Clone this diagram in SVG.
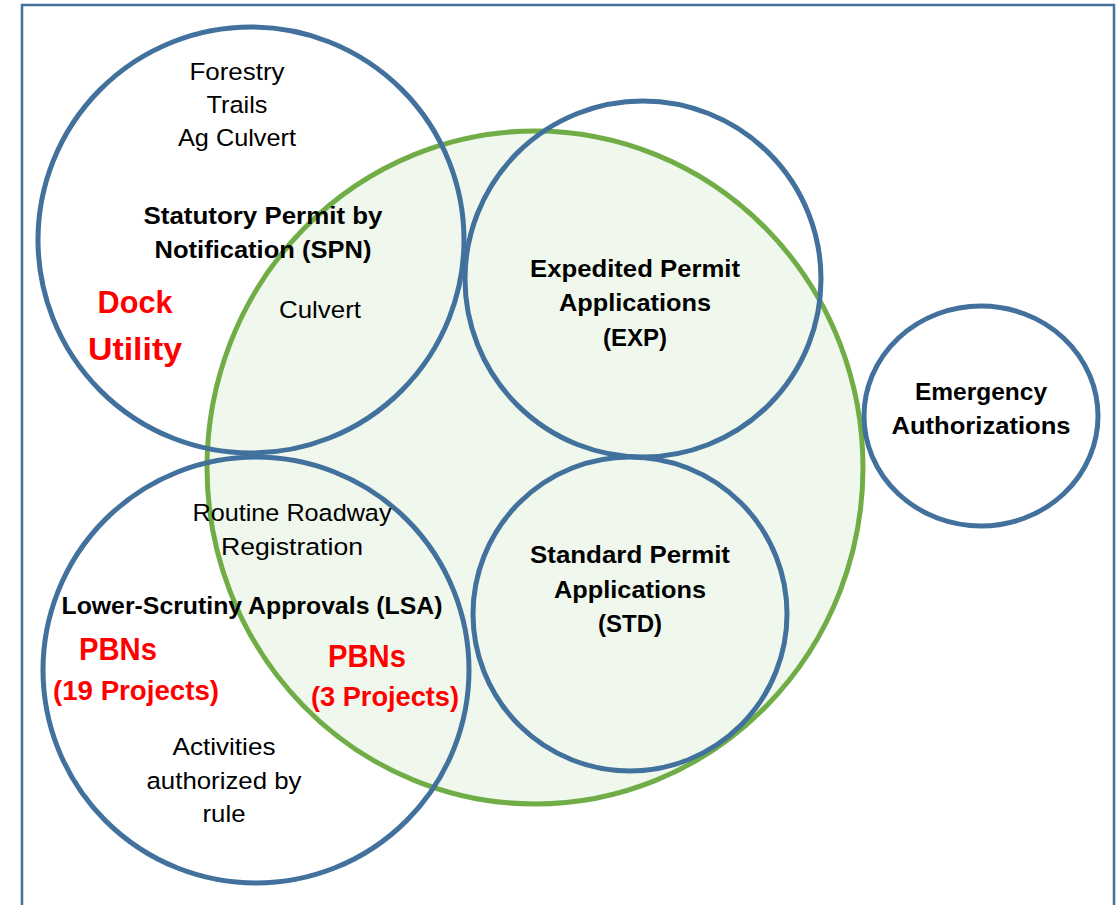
<svg xmlns="http://www.w3.org/2000/svg" width="1120" height="905" viewBox="0 0 1120 905">
<style>
.ring{fill:none;stroke:#41719C;stroke-width:5}
.t{font-family:"Liberation Sans",Arial,sans-serif;font-size:24.5px;fill:#000;text-anchor:middle}
.b{font-weight:bold;font-size:24px}
.r{fill:#FF0000;font-weight:bold}
</style>
<rect x="0" y="0" width="1120" height="905" fill="#FFFFFF"/>
<rect id="frame" x="22" y="5" width="1092" height="960" fill="none" stroke="#41719C" stroke-width="2.5"/>
<g id="general-permits">
<ellipse cx="535" cy="467.5" rx="328" ry="336.5" fill="#F0F7EC" stroke="#70AD47" stroke-width="5"/>
</g>
<g id="connectors"/>
<g id="spn">
<circle class="ring" cx="251" cy="240" r="213"/>
<text class="t" x="237" y="80" textLength="95" lengthAdjust="spacingAndGlyphs">Forestry</text>
<text class="t" x="237" y="113" textLength="61" lengthAdjust="spacingAndGlyphs">Trails</text>
<text class="t" x="237" y="146" textLength="118" lengthAdjust="spacingAndGlyphs">Ag Culvert</text>
<text class="t b" x="263" y="224" textLength="239" lengthAdjust="spacingAndGlyphs">Statutory Permit by</text>
<text class="t b" x="263" y="258" textLength="217" lengthAdjust="spacingAndGlyphs">Notification (SPN)</text>
<text class="t r" x="135" y="313" style="font-size:31px" textLength="75" lengthAdjust="spacingAndGlyphs">Dock</text>
<text class="t r" x="135" y="360" style="font-size:31px" textLength="94" lengthAdjust="spacingAndGlyphs">Utility</text>
<text class="t" x="320" y="318" textLength="82" lengthAdjust="spacingAndGlyphs">Culvert</text>
</g>
<g id="exp">
<circle class="ring" cx="643" cy="279" r="178"/>
<text class="t b" x="635" y="277" textLength="210" lengthAdjust="spacingAndGlyphs">Expedited Permit</text>
<text class="t b" x="635" y="311" textLength="152" lengthAdjust="spacingAndGlyphs">Applications</text>
<text class="t b" x="635" y="346" textLength="64" lengthAdjust="spacingAndGlyphs">(EXP)</text>
</g>
<g id="std">
<circle class="ring" cx="630" cy="614" r="157"/>
<text class="t b" x="630" y="563" textLength="200" lengthAdjust="spacingAndGlyphs">Standard Permit</text>
<text class="t b" x="630" y="598" textLength="152" lengthAdjust="spacingAndGlyphs">Applications</text>
<text class="t b" x="630" y="632" textLength="64" lengthAdjust="spacingAndGlyphs">(STD)</text>
</g>
<g id="emergency">
<ellipse class="ring" cx="981" cy="416" rx="117" ry="110"/>
<text class="t b" x="981" y="400" textLength="132" lengthAdjust="spacingAndGlyphs">Emergency</text>
<text class="t b" x="981" y="434" textLength="179" lengthAdjust="spacingAndGlyphs">Authorizations</text>
</g>
<g id="lsa">
<circle class="ring" cx="256" cy="670" r="213"/>
<text class="t" x="292" y="521" textLength="199" lengthAdjust="spacingAndGlyphs">Routine Roadway</text>
<text class="t" x="292" y="555" textLength="142" lengthAdjust="spacingAndGlyphs">Registration</text>
<text class="t b" x="252" y="614" textLength="381" lengthAdjust="spacingAndGlyphs">Lower-Scrutiny Approvals (LSA)</text>
<text class="t r" x="118" y="660" style="font-size:32px" textLength="78" lengthAdjust="spacingAndGlyphs">PBNs</text>
<text class="t r" x="136" y="700" style="font-size:27px" textLength="166" lengthAdjust="spacingAndGlyphs">(19 Projects)</text>
<text class="t r" x="367" y="667" style="font-size:32px" textLength="78" lengthAdjust="spacingAndGlyphs">PBNs</text>
<text class="t r" x="385" y="706" style="font-size:27px" textLength="148" lengthAdjust="spacingAndGlyphs">(3 Projects)</text>
<text class="t" x="224" y="755" textLength="103" lengthAdjust="spacingAndGlyphs">Activities</text>
<text class="t" x="224" y="789" textLength="155" lengthAdjust="spacingAndGlyphs">authorized by</text>
<text class="t" x="224" y="822" textLength="43" lengthAdjust="spacingAndGlyphs">rule</text>
</g>
</svg>
